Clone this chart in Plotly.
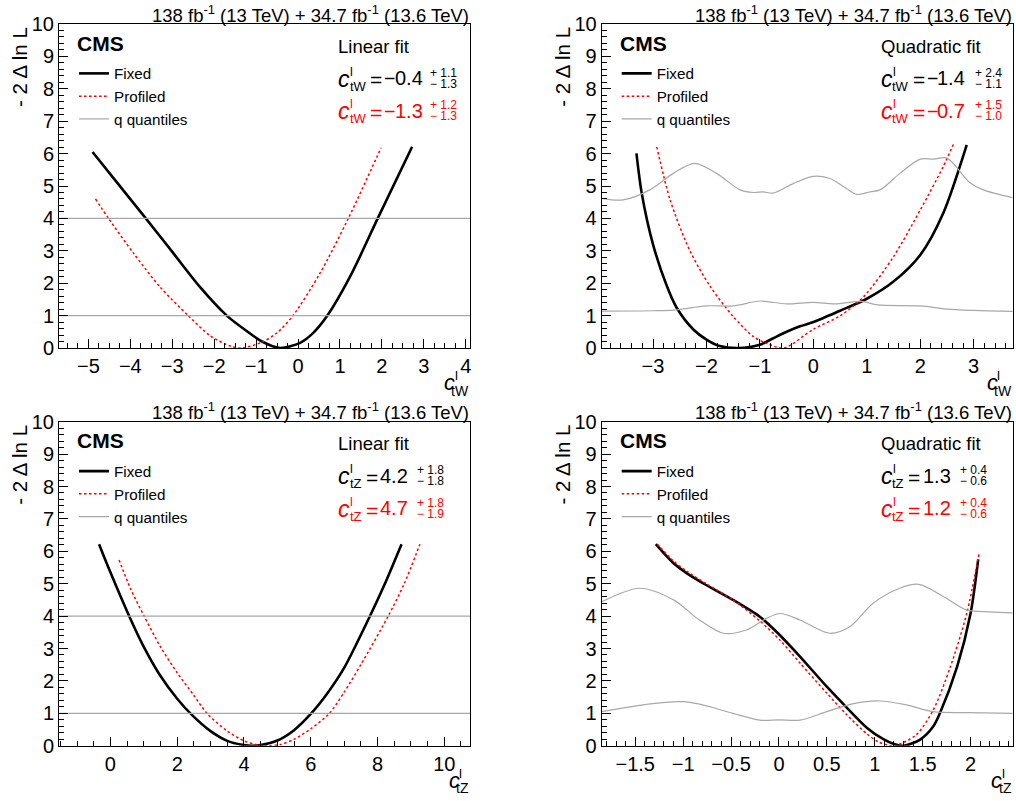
import plotly.graph_objects as go

W, H = 1016, 801
FONT = "Liberation Sans, Arial, Helvetica, sans-serif"

# ---------------- data ----------------
# top-left: c_tW linear fit
tl_fixed_x = [-4.9, -4.3, -3.63, -2.97, -2.33, -1.7, -1.2, -0.86, -0.43, 0.05, 0.35, 0.7, 1.24, 1.9, 2.72]
tl_fixed_y = [6.05, 5.08, 4.0, 2.92, 1.87, 1.0, 0.5, 0.2, 0.0, 0.16, 0.45, 1.0, 2.2, 4.0, 6.21]
tl_prof_x = [-4.83, -4.52, -3.92, -3.29, -2.62, -2.1, -1.62, -1.35, -0.86, -0.5, -0.12, 0.52, 1.18, 1.98]
tl_prof_y = [4.6, 4.0, 2.92, 1.88, 1.0, 0.38, 0.06, 0.0, 0.18, 0.47, 1.0, 2.3, 3.95, 6.18]

# top-right: c_tW quadratic fit
tr_fixed_x = [-3.31, -3.21, -3.0, -2.75, -2.56, -2.25, -2.0, -1.75, -1.4, -1.0, -0.75, -0.5, -0.25, 0.0, 0.5,
              1.0, 1.5, 2.0, 2.43, 2.87]
tr_fixed_y = [6.01, 4.77, 3.2, 1.95, 1.25, 0.58, 0.26, 0.06, 0.0, 0.1, 0.3, 0.5, 0.67, 0.8, 1.15,
              1.52, 2.05, 2.87, 4.16, 6.27]
tr_prof_x = [-2.93, -2.68, -2.31, -1.93, -1.5, -1.12, -0.87, -0.55, 0.0, 0.5, 0.94, 1.5, 2.0, 2.43, 2.63]
tr_prof_y = [6.21, 4.57, 3.0, 1.9, 0.97, 0.35, 0.14, 0.0, 0.58, 0.99, 1.58, 2.82, 4.26, 5.6, 6.32]
tr_qhi_x = [-3.96, -3.56, -3.06, -2.62, -2.22, -1.81, -1.37, -1.12, -0.94, -0.75, -0.37, 0.0, 0.31, 0.62, 0.81,
            1.06, 1.25, 1.62, 2.0, 2.25, 2.5, 2.93, 3.18, 3.73]
tr_qhi_y = [4.62, 4.57, 4.88, 5.39, 5.7, 5.39, 4.88, 4.8, 4.82, 4.78, 5.08, 5.3, 5.23, 4.92, 4.74,
            4.82, 4.88, 5.39, 5.83, 5.83, 5.86, 5.1, 4.88, 4.64]
tr_qlo_x = [-3.96, -3.0, -2.6, -2.0, -1.5, -1.0, -0.5, 0.0, 0.4, 0.9, 1.2, 2.0, 2.5, 3.0, 3.73]
tr_qlo_y = [1.14, 1.15, 1.17, 1.3, 1.3, 1.45, 1.36, 1.41, 1.36, 1.44, 1.33, 1.3, 1.2, 1.16, 1.13]

# bottom-left: c_tZ linear fit
bl_fixed_x = [-0.34, 0.0, 0.54, 1.0, 1.5, 2.0, 2.44, 3.0, 3.5, 4.0, 4.25, 4.5, 5.0, 5.5, 6.0, 6.5, 7.0, 7.75, 8.2, 8.72]
bl_fixed_y = [6.22, 5.35, 4.05, 3.05, 2.15, 1.45, 0.95, 0.45, 0.15, 0.02, 0.0, 0.02, 0.16, 0.48, 0.98, 1.62, 2.4, 3.95, 4.95, 6.22]
bl_prof_x = [0.26, 0.6, 1.01, 1.5, 2.0, 2.5, 2.89, 3.5, 4.0, 4.35, 4.7, 5.1, 5.5, 6.0, 6.56, 7.0, 7.5, 8.32, 8.8, 9.27]
bl_prof_y = [5.73, 4.85, 4.0, 3.05, 2.25, 1.55, 1.0, 0.45, 0.15, 0.04, 0.0, 0.04, 0.2, 0.52, 1.0, 1.65, 2.5, 4.0, 5.0, 6.22]

# bottom-right: c_tZ quadratic fit
br_fixed_x = [-1.285, -1.1, -0.96, -0.76, -0.48, -0.2, -0.01, 0.22, 0.5, 0.7, 0.92, 1.09, 1.2, 1.3, 1.47, 1.61,
              1.68, 1.86, 2.0, 2.08]
br_fixed_y = [6.22, 5.63, 5.32, 4.96, 4.5, 3.98, 3.47, 2.75, 1.82, 1.2, 0.55, 0.2, 0.05, 0.0, 0.18, 0.59,
              1.0, 2.44, 4.08, 5.75]
br_prof_x = [-1.27, -1.1, -0.96, -0.76, -0.48, -0.2, 0.01, 0.22, 0.5, 0.7, 0.92, 1.05, 1.2, 1.43, 1.61, 1.79, 1.96, 2.09]
br_prof_y = [6.22, 5.7, 5.38, 5.0, 4.5, 3.85, 3.26, 2.55, 1.62, 0.98, 0.36, 0.1, 0.0, 0.33, 1.1, 2.44, 4.08, 5.95]
br_qhi_x = [-1.85, -1.45, -1.1, -0.83, -0.58, -0.34, -0.13, 0.01, 0.22, 0.53, 0.74, 0.98, 1.26, 1.46, 1.72, 1.96, 2.2, 2.44]
br_qhi_y = [4.44, 4.86, 4.5, 3.88, 3.47, 3.57, 3.93, 4.08, 3.88, 3.47, 3.67, 4.39, 4.86, 4.98, 4.6, 4.19, 4.13, 4.1]
br_qlo_x = [-1.85, -1.0, -0.48, -0.2, 0.0, 0.22, 0.5, 0.78, 1.05, 1.33, 1.61, 1.96, 2.44]
br_qlo_y = [1.05, 1.36, 1.0, 0.79, 0.8, 0.79, 1.05, 1.3, 1.38, 1.26, 1.05, 1.02, 1.0]

# linear-fit quantile levels
lin_q_levels = [1.0, 4.0]

# axis ranges / ticks
x_ranges = [[-5.7, 4.1], [-3.96, 3.73], [-1.54, 10.77], [-1.85, 2.44]]
x_dticks = [1, 1, 2, 0.5]
x_minor = [0.25, 0.2, 0.5, 0.1]
y_range = [0, 10]

# text
fit_labels = ["Linear fit", "Quadratic fit", "Linear fit", "Quadratic fit"]
coef_subs = ["tW", "tW", "tZ", "tZ"]
fixed_sign = ["\u2212", "\u2212", "", ""]
fixed_vals = ["0.4", "1.4", "4.2", "1.3"]
fixed_up = ["+ 1.1", "+ 2.4", "+ 1.8", "+ 0.4"]
fixed_dn = ["\u2212 1.3", "\u2212 1.1", "\u2212 1.8", "\u2212 0.6"]
prof_sign = ["\u2212", "\u2212", "", ""]
prof_vals = ["1.3", "0.7", "4.7", "1.2"]
prof_up = ["+ 1.2", "+ 1.5", "+ 1.8", "+ 0.4"]
prof_dn = ["\u2212 1.3", "\u2212 1.0", "\u2212 1.9", "\u2212 0.6"]
lumi_text = "138 fb<sup>-1</sup> (13 TeV) + 34.7 fb<sup>-1</sup> (13.6 TeV)"

# ---------------- layout helpers ----------------
def px(x):
    return x / W


def py(y):
    return 1 - y / H


FR_L, FR_R, FR_T, FR_B = 59, 470, 24, 348
offsets = [(0, 0), (542.7, 0), (0, 397.7), (542.7, 397.7)]
eq_x = [368, 368, 364.3, 363.7]
val_x = [424.5, 424, 410, 410.3]
scr_x = [428, 430, 415, 415.3]
xt_c = [442, 442, 446.5, 446.5]

BLACK = "black"
RED = "#ff0000"
GRAY = "#a8a8a8"

fig = go.Figure()

fixed = [(tl_fixed_x, tl_fixed_y), (tr_fixed_x, tr_fixed_y), (bl_fixed_x, bl_fixed_y), (br_fixed_x, br_fixed_y)]
prof = [(tl_prof_x, tl_prof_y), (tr_prof_x, tr_prof_y), (bl_prof_x, bl_prof_y), (br_prof_x, br_prof_y)]
qlines = [
    None,
    [(tr_qhi_x, tr_qhi_y), (tr_qlo_x, tr_qlo_y)],
    None,
    [(br_qhi_x, br_qhi_y), (br_qlo_x, br_qlo_y)],
]

annotations = []


def ann(text, x, y, size, color="black", xanchor="left", yanchor="middle", **kw):
    annotations.append(dict(text=text, x=px(x), y=py(y), xref="paper", yref="paper",
                            xanchor=xanchor, yanchor=yanchor, showarrow=False,
                            font=dict(family=FONT, size=size, color=color), **kw))


for i in range(4):
    xa = "x" if i == 0 else f"x{i+1}"
    ya = "y" if i == 0 else f"y{i+1}"
    lg = "legend" if i == 0 else f"legend{i+1}"
    if qlines[i] is None:
        qs = [([x_ranges[i][0], x_ranges[i][1]], [lv, lv]) for lv in lin_q_levels]
    else:
        qs = qlines[i]
    fig.add_trace(go.Scatter(x=fixed[i][0], y=fixed[i][1], mode="lines", name="Fixed",
                             line=dict(color=BLACK, width=2.6, shape="spline", smoothing=0.8),
                             xaxis=xa, yaxis=ya, legend=lg, hoverinfo="skip"))
    fig.add_trace(go.Scatter(x=prof[i][0], y=prof[i][1], mode="lines", name="Profiled",
                             line=dict(color=RED, width=1.5, dash="2.5px,2.5px", shape="spline", smoothing=0.8),
                             xaxis=xa, yaxis=ya, legend=lg, hoverinfo="skip"))
    for k, (qx, qy) in enumerate(qs):
        fig.add_trace(go.Scatter(x=qx, y=qy, mode="lines", name="q quantiles",
                                 line=dict(color=GRAY, width=1.2, shape="spline", smoothing=0.9),
                                 xaxis=xa, yaxis=ya, legend=lg, showlegend=(k == 0), hoverinfo="skip"))

    dx, dy = offsets[i]
    xdom = [px(FR_L + dx), px(FR_R + dx)]
    ydom = [py(FR_B + dy), py(FR_T + dy)]
    axis_common = dict(ticks="inside", tickcolor="black", tickwidth=1, showline=True, linecolor="black",
                       linewidth=1, mirror=True, showgrid=False, zeroline=False,
                       tickfont=dict(family=FONT, size=20, color="black"))
    fig.update_layout(**{
        ("xaxis" if i == 0 else f"xaxis{i+1}"): dict(
            domain=xdom, anchor=ya, range=x_ranges[i], dtick=x_dticks[i], tick0=0, ticklen=9,
            minor=dict(ticks="inside", ticklen=5, dtick=x_minor[i], tick0=0, tickcolor="black"),
            **axis_common),
        ("yaxis" if i == 0 else f"yaxis{i+1}"): dict(
            domain=ydom, anchor=xa, range=y_range, dtick=1, tick0=0, ticklen=9,
            minor=dict(ticks="inside", ticklen=5, dtick=0.2, tick0=0, tickcolor="black"),
            **axis_common),
        lg: dict(x=px(74 + dx), y=py(57 + dy), xanchor="left", yanchor="top",
                 bgcolor="rgba(0,0,0,0)", font=dict(family=FONT, size=15.2, color="black"),
                 tracegroupgap=0, itemwidth=30),
    })

    # lumi header
    ann(lumi_text, FR_R + dx + 1, 13.5 + dy, 18.5, xanchor="right")
    # CMS
    ann("<b>CMS</b>", 75 + dx, 43 + dy, 21)
    # fit label
    ann(fit_labels[i], 336 + dx, 46 + dy, 18.5)
    # equations
    rows = [(77.8, BLACK, fixed_sign[i], fixed_vals[i], fixed_up[i], fixed_dn[i]),
            (110.5, RED, prof_sign[i], prof_vals[i], prof_up[i], prof_dn[i])]
    for yc, col, sg, val, up, dn in rows:
        ann("<i>c</i>", 336 + dx, yc + 0.8 + dy, 23, col)
        ann("l", 348 + dx, yc - 6.3 + dy, 12.5, col)
        ann(coef_subs[i], 347.5 + dx, yc + 8.4 + dy, 13, col)
        ann("=", eq_x[i] + dx, yc + 2 + dy, 21, col)
        if sg:
            ann(sg, 389.5 + dx, yc + dy, 19.5, col, xanchor="center")
        ann(val, val_x[i] + dx, yc + dy, 20, col, xanchor="right")
        ann(up, scr_x[i] + dx, yc - 5.2 + dy, 12, col)
        ann(dn, scr_x[i] + dx, yc + 5.8 + dy, 12, col)
    # y-axis title
    ann("- 2 \u0394 ln L", 20 + dx, 25 + dy, 20.5, xanchor="center", yanchor="top", textangle=-90)
    # x-axis title
    ann("<i>c</i>", xt_c[i] + dx, 383 + dy, 21.5)
    ann("l", xt_c[i] + 10.5 + dx, 375.5 + dy, 13.5)
    ann(coef_subs[i], FR_R + dx + 1, 390.5 + dy, 14, xanchor="right")

fig.update_layout(
    width=W, height=H, margin=dict(l=0, r=0, t=0, b=0, autoexpand=False),
    paper_bgcolor="white", plot_bgcolor="white",
    annotations=annotations, showlegend=True,
    font=dict(family=FONT, color="black"),
)

fig.write_html("out.html")
